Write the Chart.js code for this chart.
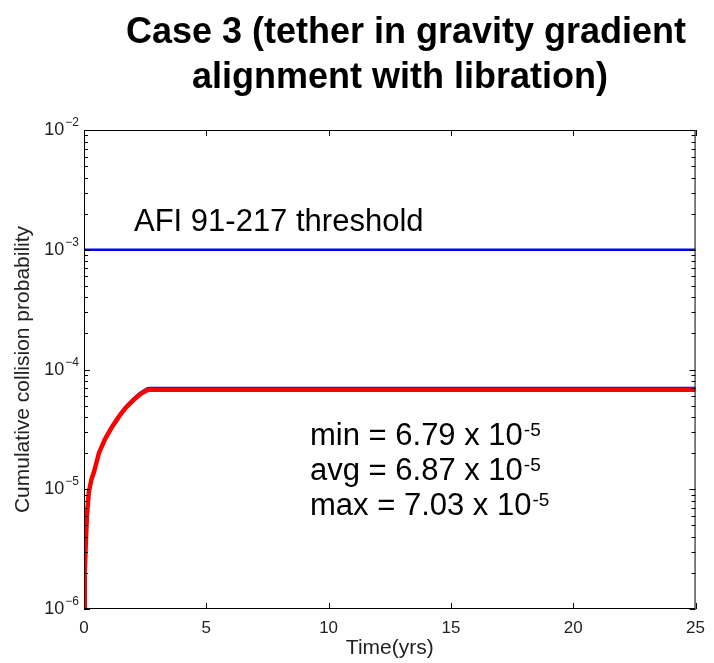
<!DOCTYPE html>
<html>
<head>
<meta charset="utf-8">
<script src="https://cdn.jsdelivr.net/npm/chart.js@4/dist/chart.umd.min.js"></script>
<style>
  html, body { margin: 0; padding: 0; background: #fff; }
  #wrap { width: 714px; height: 663px; }
</style>
</head>
<body>
<div id="wrap"><canvas id="grafico" width="714" height="663"></canvas></div>
<script>
// valores
const tempoAnos = [0, 0.03, 0.07, 0.12, 0.2, 0.3, 0.41, 0.61, 0.85, 1.16, 1.45, 1.71, 2.0, 2.25, 2.45, 2.6, 2.7, 25];
const probMin = [1.0e-6, 2.0e-6, 3.4e-6, 6.0e-6, 9.5e-6, 1.2e-5, 1.4e-5, 2.0e-5, 2.6e-5, 3.35e-5, 4.1e-5, 4.8e-5, 5.5e-5, 6.1e-5, 6.5e-5, 6.75e-5, 6.79e-5, 6.79e-5];
const probMed = [1.0e-6, 2.0e-6, 3.45e-6, 6.1e-6, 9.6e-6, 1.21e-5, 1.42e-5, 2.03e-5, 2.63e-5, 3.39e-5, 4.15e-5, 4.86e-5, 5.57e-5, 6.18e-5, 6.59e-5, 6.84e-5, 6.87e-5, 6.87e-5];
const probMax = [1.0e-6, 2.05e-6, 3.5e-6, 6.2e-6, 9.8e-6, 1.24e-5, 1.45e-5, 2.08e-5, 2.7e-5, 3.47e-5, 4.25e-5, 4.97e-5, 5.7e-5, 6.32e-5, 6.74e-5, 7.0e-5, 7.03e-5, 7.03e-5];

const limiteX = [0, 25];
const limiteY = [1e-3, 1e-3];

const ticksX = [0, 5, 10, 15, 20, 25];
const expoentesY = [-6, -5, -4, -3, -2];

const titulo = ['Case 3 (tether in gravity gradient', 'alignment with libration)'];
const textoLimite = 'AFI 91-217 threshold';
const estatisticas = [['min = 6.79 x 10', '-5'], ['avg = 6.87 x 10', '-5'], ['max = 7.03 x 10', '-5']];

const pares = (xs, ys) => xs.map((x, i) => ({ x: x, y: ys[i] }));

const fonte = '"Liberation Sans", Arial, Helvetica, sans-serif';

// desenha caixa, marcas internas, rotulos do eixo y, titulo e anotacoes
const extras = {
  id: 'extras',
  afterDatasetsDraw(chart) {
    const ctx = chart.ctx;
    const a = chart.chartArea;
    const sx = chart.scales.x;
    const sy = chart.scales.y;
    ctx.save();
    ctx.strokeStyle = '#000';
    ctx.lineWidth = 1;
    ctx.strokeRect(a.left + 0.5, a.top + 0.5, a.right - a.left - 1, a.bottom - a.top - 1);
    ctx.beginPath();
    sy.ticks.forEach(t => {
      const y = Math.round(sy.getPixelForValue(t.value)) + 0.5;
      const len = t.major ? 6 : 4;
      ctx.moveTo(a.left, y); ctx.lineTo(a.left + len, y);
      ctx.moveTo(a.right, y); ctx.lineTo(a.right - len, y);
    });
    sx.ticks.forEach(t => {
      const x = Math.round(sx.getPixelForValue(t.value)) + 0.5;
      ctx.moveTo(x, a.bottom); ctx.lineTo(x, a.bottom - 6);
      ctx.moveTo(x, a.top); ctx.lineTo(x, a.top + 6);
    });
    ctx.stroke();
    ctx.restore();
  },
  afterDraw(chart) {
    const ctx = chart.ctx;
    const a = chart.chartArea;
    const sy = chart.scales.y;
    ctx.save();
    ctx.fillStyle = '#222';
    ctx.textBaseline = 'alphabetic';
    // rotulos 10^n do eixo y
    expoentesY.forEach(e => {
      const y = sy.getPixelForValue(Math.pow(10, e));
      const expo = String(e).replace('-', '\u2212');
      ctx.font = '12px ' + fonte;
      const wExp = ctx.measureText(expo).width;
      ctx.textAlign = 'right';
      ctx.fillText(expo, a.left - 5, y - 4);
      ctx.font = '18px ' + fonte;
      ctx.fillText('10', a.left - 5 - wExp - 1, y + 5);
    });
    // titulo
    ctx.fillStyle = '#000';
    ctx.textAlign = 'center';
    ctx.font = 'bold 36px ' + fonte;
    ctx.fillText(titulo[0], 406, 43);
    ctx.fillText(titulo[1], 400, 88);
    // anotacoes
    ctx.textAlign = 'left';
    ctx.font = '31px ' + fonte;
    ctx.fillText(textoLimite, 134, 231);
    estatisticas.forEach((s, i) => {
      const base = 445 + i * 35;
      ctx.font = '31px ' + fonte;
      ctx.fillText(s[0], 310, base);
      const w = ctx.measureText(s[0]).width;
      ctx.font = '19px ' + fonte;
      ctx.fillText(s[1], 310 + w + 1, base - 9);
    });
    ctx.restore();
  }
};

new Chart(document.getElementById('grafico'), {
  type: 'line',
  data: {
    datasets: [
      { label: 'min', data: pares(tempoAnos, probMin), borderColor: '#ff0000', borderWidth: 4.5, order: 0 },
      { label: 'avg', data: pares(tempoAnos, probMed), borderColor: '#00a000', borderWidth: 2, order: 1 },
      { label: 'max', data: pares(tempoAnos, probMax), borderColor: '#0000ff', borderWidth: 2, order: 2 },
      { label: 'threshold', data: pares(limiteX, limiteY), borderColor: '#0000ff', borderWidth: 2.5, order: 3 }
    ]
  },
  options: {
    responsive: false,
    animation: false,
    events: [],
    elements: { point: { radius: 0 }, line: { tension: 0, borderCapStyle: 'butt' } },
    layout: { padding: { top: 130, right: 11, left: 0, bottom: 0 } },
    plugins: { legend: { display: false }, title: { display: false }, tooltip: { enabled: false } },
    scales: {
      x: {
        type: 'linear',
        min: 0,
        max: 25,
        afterBuildTicks: s => { s.ticks = ticksX.map(v => ({ value: v })); },
        afterFit: s => { s.height = 54; },
        grid: { display: false, drawTicks: false },
        border: { display: false },
        ticks: { color: '#222', font: { family: fonte, size: 17 }, padding: 9 },
        title: { display: true, text: 'Time(yrs)', color: '#222', font: { family: fonte, size: 21 }, padding: { top: 0, bottom: 2 } }
      },
      y: {
        type: 'logarithmic',
        min: 1e-6,
        max: 1e-2,
        afterBuildTicks: s => {
          const lista = [];
          expoentesY.forEach(e => {
            for (let m = 1; m <= 9; m++) {
              if (e === expoentesY[expoentesY.length - 1] && m > 1) break;
              lista.push({ value: m * Math.pow(10, e), major: m === 1 });
            }
          });
          s.ticks = lista;
        },
        afterFit: s => { s.width = 84; },
        grid: { display: false, drawTicks: false },
        border: { display: false },
        ticks: { display: false },
        title: { display: true, text: 'Cumulative collision probability', color: '#222', font: { family: fonte, size: 21 }, padding: { top: 11, bottom: 0 } }
      }
    }
  },
  plugins: [extras]
});
</script>
</body>
</html>
